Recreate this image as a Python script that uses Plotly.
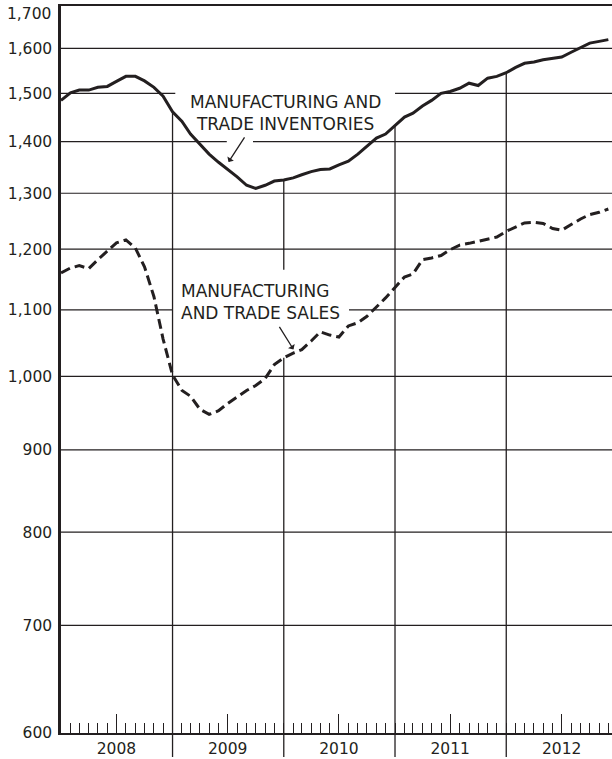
import math
import plotly.graph_objects as go
import pandas as pd

# Monthly data, Jan 2008 - Dec 2012 (billions of dollars)
months = pd.date_range("2008-01-01", periods=60, freq="MS")

inventories = [1485, 1501, 1507, 1507, 1513, 1515, 1526, 1537, 1537, 1527, 1513, 1494,
               1461, 1441, 1415, 1395, 1375, 1359, 1346, 1331, 1315, 1309, 1315, 1323,
               1325, 1329, 1335, 1341, 1345, 1346, 1354, 1361, 1375, 1391, 1407, 1415,
               1433, 1450, 1458, 1473, 1485, 1500, 1504, 1511, 1522, 1517, 1533, 1537,
               1545, 1557, 1566, 1569, 1574, 1577, 1580, 1591, 1602, 1612, 1616, 1620]

sales = [1160, 1168, 1172, 1167, 1182, 1197, 1211, 1216, 1202, 1170, 1121, 1055,
         1002, 980, 972, 954, 947, 952, 962, 971, 980, 987, 997, 1017,
         1027, 1034, 1039, 1052, 1066, 1061, 1058, 1075, 1080, 1090, 1104, 1119,
         1136, 1153, 1158, 1182, 1185, 1189, 1199, 1207, 1210, 1214, 1218, 1221,
         1231, 1238, 1246, 1247, 1245, 1236, 1233, 1243, 1253, 1261, 1265, 1271]

y_ticks = [600, 700, 800, 900, 1000, 1100, 1200, 1300, 1400, 1500, 1600, 1700]
years = [2008, 2009, 2010, 2011, 2012]

INK = "#231f20"
FONT = "'DejaVu Sans', sans-serif"
X_START, X_END = "2008-01-01", "2012-12-13"

# gridline breaks kept clear for the labels and arrows
grid_gaps = {
    1500: ("2009-01-10", "2011-01-01"),
    1400: ("2009-06-28", "2009-09-22"),
    1100: ("2009-01-01", "2010-08-03"),
}

fig = go.Figure()

fig.add_trace(go.Scatter(
    x=months, y=inventories, mode="lines",
    line=dict(color=INK, width=3), hoverinfo="skip", showlegend=False
))
fig.add_trace(go.Scatter(
    x=months, y=sales, mode="lines",
    line=dict(color=INK, width=3, dash="10px,5px"), hoverinfo="skip", showlegend=False
))

# horizontal gridlines
for v in y_ticks[1:-1]:
    if v in grid_gaps:
        a, b = grid_gaps[v]
        segs = [(X_START, a), (b, X_END)]
    else:
        segs = [(X_START, X_END)]
    for x0, x1 in segs:
        fig.add_shape(type="line", xref="x", yref="y", x0=x0, x1=x1, y0=v, y1=v,
                      line=dict(color=INK, width=1.2), layer="below")

# year dividers, from below the axis up to the inventories curve
for k, yr in enumerate(years[1:], start=1):
    d = f"{yr}-01-01"
    top = inventories[12 * k]
    if yr == 2010:
        segs = [(600, sales[12 * k]), (1165, top)]
    else:
        segs = [(600, top)]
    for y0, y1 in segs:
        fig.add_shape(type="line", xref="x", yref="y", x0=d, x1=d, y0=y0, y1=y1,
                      line=dict(color=INK, width=1.3), layer="below")
    fig.add_shape(type="line", xref="x", yref="paper", x0=d, x1=d, y0=-0.033, y1=0,
                  line=dict(color=INK, width=1.3))

fig.add_annotation(
    text="MANUFACTURING AND<br>TRADE INVENTORIES", xref="paper", yref="paper",
    x=0.408, y=0.8525, xanchor="center", yanchor="middle",
    showarrow=False, align="center",
    font=dict(family=FONT, size=17, color=INK)
)
fig.add_annotation(
    text="", xref="paper", yref="paper", x=0.304, y=0.7855,
    ax=17, ay=-26, showarrow=True, arrowhead=1, arrowsize=1, arrowwidth=1.3,
    arrowcolor=INK, standoff=0
)
fig.add_annotation(
    text="MANUFACTURING<br>AND TRADE SALES", xref="paper", yref="paper",
    x=0.3624, y=0.593, xanchor="center", yanchor="middle",
    showarrow=False, align="left",
    font=dict(family=FONT, size=17, color=INK)
)
fig.add_annotation(
    text="", xref="paper", yref="paper", x=0.4219, y=0.5276,
    ax=-15, ay=-24, showarrow=True, arrowhead=1, arrowsize=1, arrowwidth=1.3,
    arrowcolor=INK, standoff=0
)
# top tick label sits just under the frame
fig.add_annotation(
    text=f"{y_ticks[-1]:,}", xref="paper", yref="paper", x=0, y=1,
    xanchor="right", yanchor="middle", xshift=-8, yshift=-8, showarrow=False,
    font=dict(family=FONT, size=15.5, color=INK)
)

fig.update_layout(
    width=612, height=759,
    margin=dict(l=61, r=0, t=6, b=26),
    plot_bgcolor="white", paper_bgcolor="white",
    showlegend=False,
    xaxis=dict(
        type="date", range=[X_START, X_END],
        tickmode="array",
        tickvals=[f"{y}-07-01" for y in years],
        ticktext=[str(y) for y in years],
        ticks="inside", ticklen=19, tickwidth=1.3, tickcolor=INK,
        minor=dict(dtick="M1", tick0="2008-01-01", ticks="inside", ticklen=10,
                   tickwidth=1.3, tickcolor=INK, showgrid=False),
        showline=True, linewidth=2.2, linecolor=INK, mirror=True,
        showgrid=False, zeroline=False, automargin=False,
        tickfont=dict(family=FONT, size=15.5, color=INK),
    ),
    yaxis=dict(
        type="log", range=[math.log10(600), math.log10(1700)],
        tickmode="array",
        tickvals=y_ticks,
        ticktext=[f"{v:,}" if v != y_ticks[-1] else "" for v in y_ticks],
        ticks="", showline=True, linewidth=2.5, linecolor=INK,
        showgrid=False, zeroline=False, automargin=False,
        ticklabelstandoff=3,
        tickfont=dict(family=FONT, size=15.5, color=INK),
    ),
)

# page body margin would push the figure off the 612x759 window
fig.write_html("out.html", config={"displayModeBar": False},
               post_script="document.body.style.margin='0';")
